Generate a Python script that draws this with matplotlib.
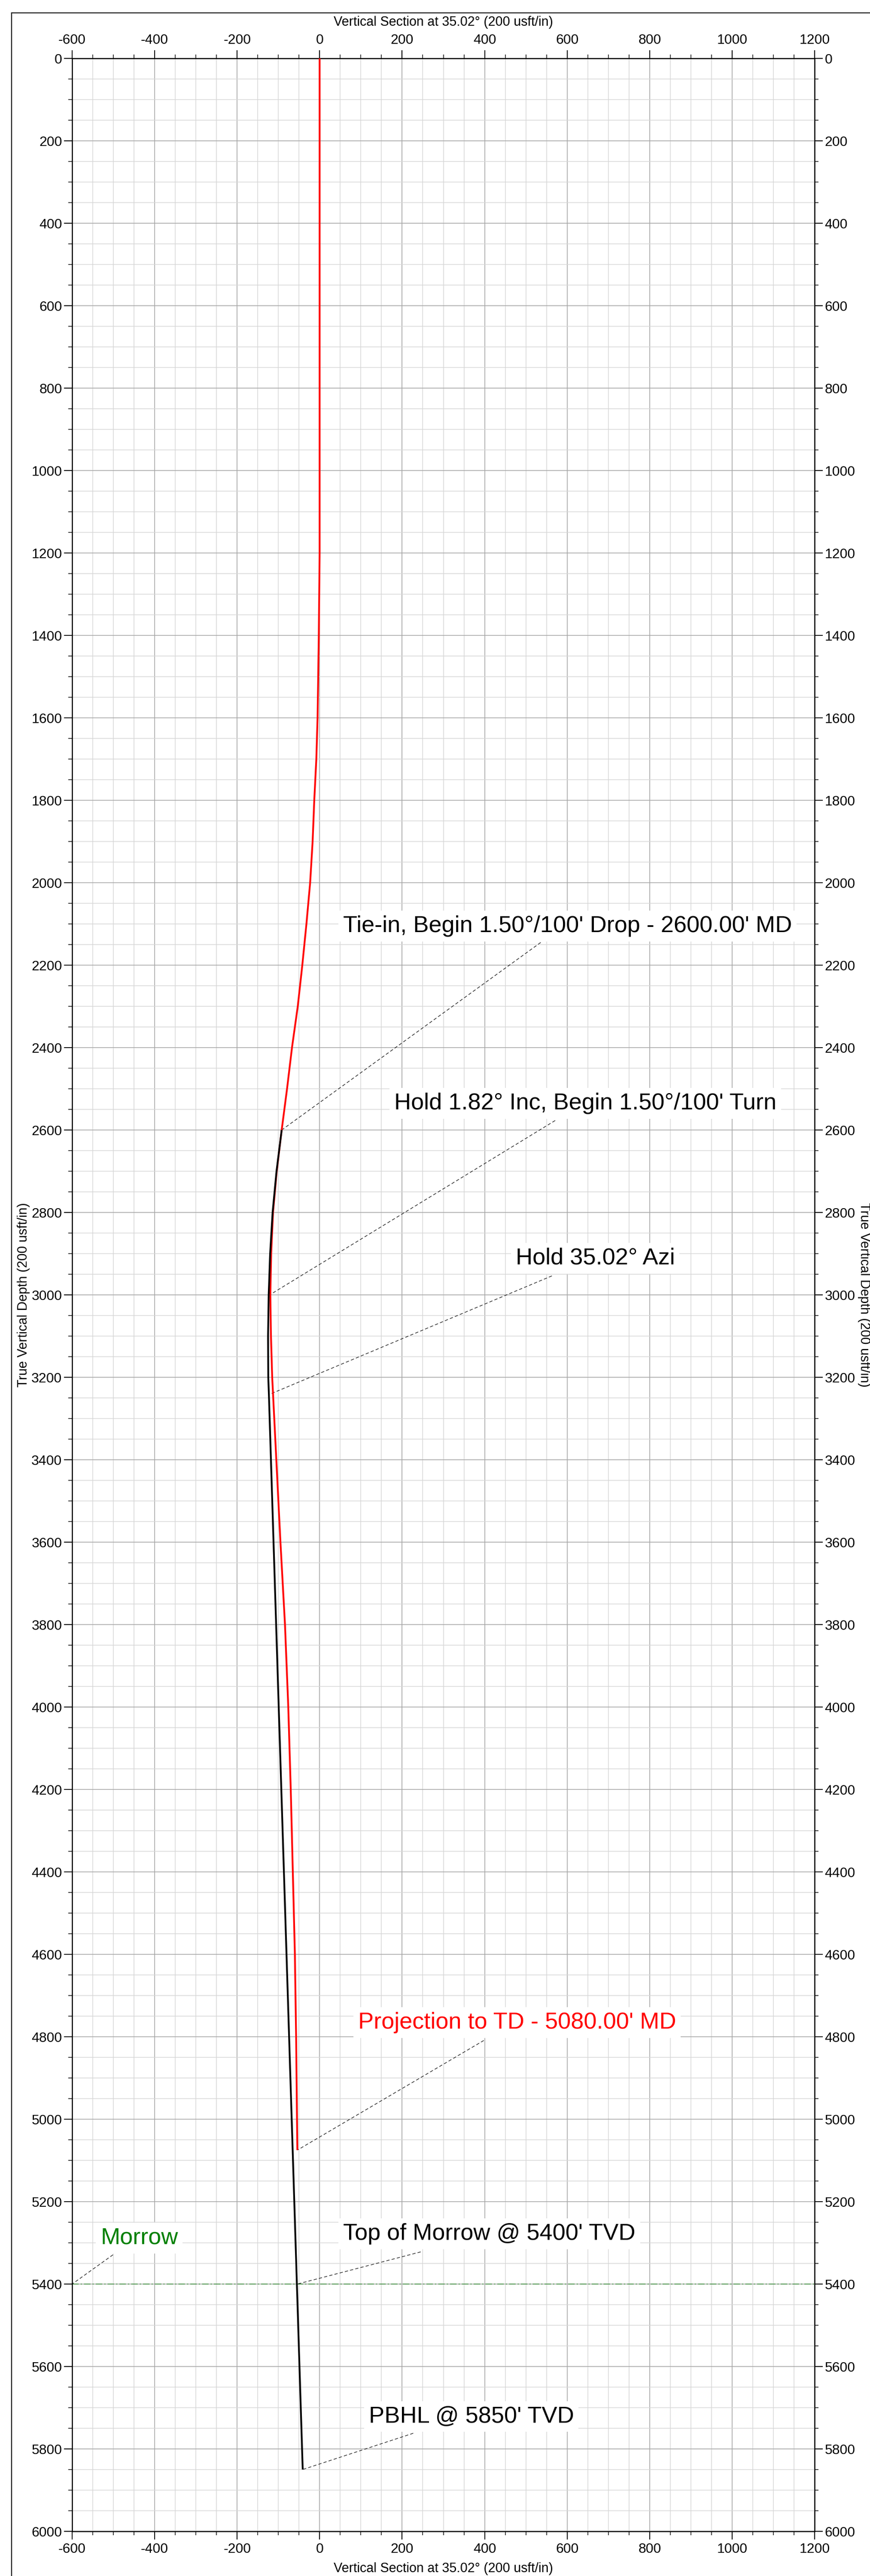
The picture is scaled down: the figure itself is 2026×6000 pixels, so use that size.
import numpy as np
import matplotlib
matplotlib.use("Agg")
import matplotlib.pyplot as plt
from matplotlib.lines import Line2D

plt.rcParams['font.family'] = ['Liberation Sans', 'DejaVu Sans']

# ---- data ----
# actual survey (red): true vertical depth and vertical section
red_tvd = [0, 1000, 1200, 1400, 1600, 1700, 1800, 1900, 2000, 2100, 2200, 2300,
           2400, 2500, 2600, 2700, 2800, 2900, 3000, 3100, 3200, 3300, 3400,
           3600, 3800, 4000, 4200, 4400, 4600, 4800, 5075]
red_vs = [0, 0, 0, -2, -5, -8, -13, -17, -23, -32, -42, -53,
          -67, -79, -92, -104, -113, -117.5, -119.5, -118, -115, -110, -105,
          -95, -84, -76, -70, -65, -60, -57, -54]
# plan (black)
black_tvd = [2600, 2700, 2800, 2900, 3000, 3100, 3200, 3242, 5850]
black_vs = [-92, -104.5, -114, -120, -123.5, -125, -124.5, -123, -41]

x_ticks = [-600, -400, -200, 0, 200, 400, 600, 800, 1000, 1200]
y_ticks = list(range(0, 6001, 200))
morrow_tvd = 5400

# annotations: text, text x (left), text baseline y, leader start, leader end, color
ann_text = ["Tie-in, Begin 1.50°/100' Drop - 2600.00' MD",
            "Hold 1.82° Inc, Begin 1.50°/100' Turn",
            "Hold 35.02° Azi",
            "Projection to TD - 5080.00' MD",
            "Top of Morrow @ 5400' TVD",
            "PBHL @ 5850' TVD",
            "Morrow"]
ann_tx = [57, 181, 475, 93, 57, 119, -531]
ann_ty = [2120, 2550, 2926, 4780, 5293, 5736, 5303]
ann_lx = [536, 571, 563, 398, 245, 227, -501]
ann_ly = [2145, 2577, 2954, 4809, 5322, 5762, 5329]
ann_px = [-92, -121, -123, -54, -54, -41, -600]
ann_py = [2600, 3000, 3242, 5075, 5400, 5850, 5400]
ann_col = ['black', 'black', 'black', '#ff0000', 'black', 'black', '#008000']

W, H = 2026, 6000
fig = plt.figure(figsize=(W / 100, H / 100), dpi=100)
ax = fig.add_axes([168 / W, 1 - 5896 / H, (1897 - 168) / W, (5896 - 136) / H])

ax.set_xlim(-600, 1200)
ax.set_ylim(6000, 0)

ax.set_xticks(x_ticks)
ax.set_xticks(np.arange(-600, 1201, 50), minor=True)
ax.set_yticks(y_ticks)
ax.set_yticks(np.arange(0, 6001, 50), minor=True)
ax.set_xticklabels([str(v) for v in x_ticks])
ax.set_yticklabels([str(v) for v in y_ticks])

ax.grid(which='minor', color='#d6d6d6', lw=1.1)
ax.grid(which='major', color='#a6a6a6', lw=1.2)
ax.set_axisbelow(True)

ax.tick_params(which='both', direction='out', top=True, right=True,
               labeltop=True, labelright=True, colors='black')
ax.tick_params(which='major', length=13.5, width=1.4, labelsize=23)
ax.tick_params(which='minor', length=6.5, width=1.1)
ax.tick_params(axis='x', which='major', pad=6)
ax.tick_params(axis='y', which='major', pad=3.5)
for s in ax.spines.values():
    s.set_linewidth(1.8)

# formation line
ax.axhline(morrow_tvd, color='#2e8b2e', lw=1.1, ls=(0, (10, 3, 2, 3)), zorder=2)

# wellbore curves
ax.plot(red_vs, red_tvd, color='#ff0000', lw=3.0, zorder=4, solid_capstyle='butt')
ax.plot(black_vs, black_tvd, color='black', lw=3.0, zorder=5, solid_capstyle='butt')

# annotations
for t, tx, ty, lx, ly, px, py, c in zip(ann_text, ann_tx, ann_ty, ann_lx, ann_ly,
                                          ann_px, ann_py, ann_col):
    ax.plot([lx, px], [ly, py], color='black', lw=0.9, ls=(0, (6, 4)), zorder=3)
    ax.text(tx, ty, t, color=c, fontsize=39, ha='left', va='baseline', zorder=6,
            bbox=dict(boxstyle='square,pad=0.2', facecolor='white', edgecolor='none'))

# axis titles
lab = "Vertical Section at 35.02° (200 usft/in)"
fig.text((168 + 1897) / 2 / W, 1 - 52 / H, lab, fontsize=22, ha='center', va='center')
fig.text((168 + 1897) / 2 / W, 1 - 5983 / H, lab, fontsize=22, ha='center', va='center')
ylab = "True Vertical Depth (200 usft/in)"
fig.text(55 / W, 1 - 3016 / H, ylab, fontsize=22, ha='center', va='center', rotation=90)
fig.text(2012 / W, 1 - 3016 / H, ylab, fontsize=22, ha='center', va='center', rotation=270)

# outer frame (left and top edges)
fig.add_artist(Line2D([27 / W, 27 / W], [0, 1 - 30 / H], transform=fig.transFigure,
                      color='black', lw=1.6))
fig.add_artist(Line2D([27 / W, 1], [1 - 30 / H, 1 - 30 / H], transform=fig.transFigure,
                      color='black', lw=1.6))

fig.savefig("out.png", dpi=100, facecolor='white')
